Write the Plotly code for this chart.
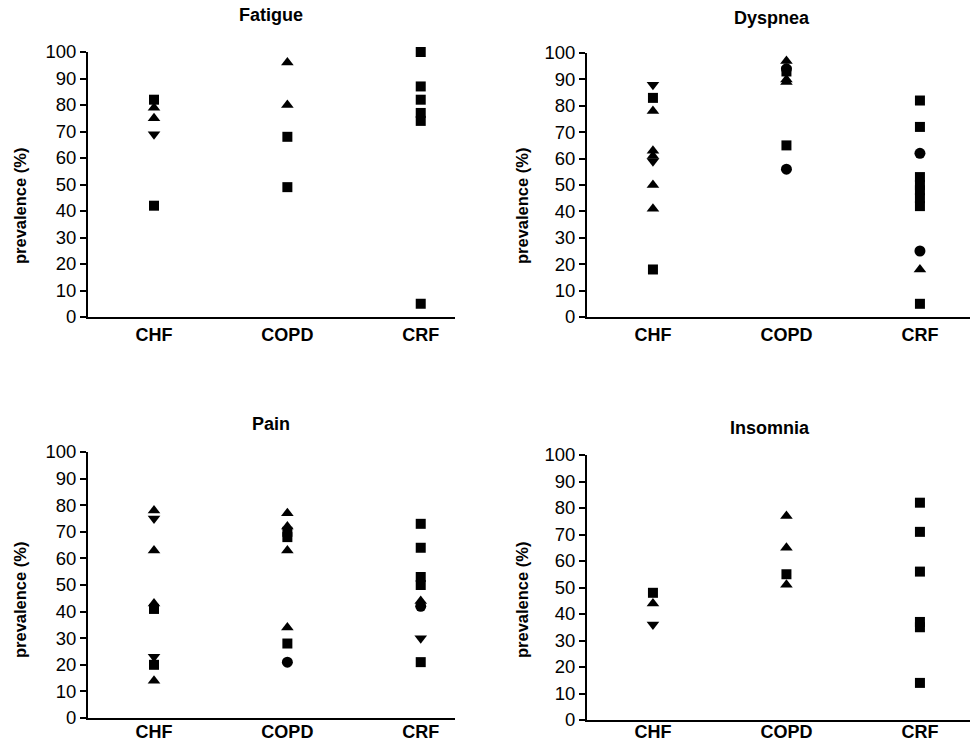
import plotly.graph_objects as go

W, H = 976, 742

categories = ["CHF", "COPD", "CRF"]
panel_titles = ["Fatigue", "Dyspnea", "Pain", "Insomnia"]
y_ticks = [0, 10, 20, 30, 40, 50, 60, 70, 80, 90, 100]

# values per category (CHF, COPD, CRF), grouped by series (study marker)
fatigue_sq = [[82, 42], [68, 49], [100, 87, 82, 77, 74, 5]]
fatigue_tu = [[79, 75], [96, 80], []]
fatigue_td = [[69], [], []]
fatigue_ci = [[], [], []]

dyspnea_sq = [[83, 18], [93, 65], [82, 72, 53, 50, 48, 45, 42, 5]]
dyspnea_tu = [[78, 63, 61, 50, 41], [97, 90, 89], [18]]
dyspnea_td = [[88, 59], [], []]
dyspnea_ci = [[], [94, 56], [62, 25]]

pain_sq = [[41, 20], [70, 68, 28], [73, 64, 53, 50, 21]]
pain_tu = [[78, 63, 43, 14], [77, 72, 63, 34], [44]]
pain_td = [[75, 23], [], [30]]
pain_ci = [[], [21], [42]]

insomnia_sq = [[48], [55], [82, 71, 56, 37, 35, 14]]
insomnia_tu = [[44], [77, 65, 51], []]
insomnia_td = [[36], [], []]
insomnia_ci = [[], [], []]

panels = [
    (fatigue_sq, fatigue_tu, fatigue_td, fatigue_ci),
    (dyspnea_sq, dyspnea_tu, dyspnea_td, dyspnea_ci),
    (pain_sq, pain_tu, pain_td, pain_ci),
    (insomnia_sq, insomnia_tu, insomnia_td, insomnia_ci),
]

# pixel geometry of each plot area: (left, right, top(100), bottom(0)), x range, label standoff
geom = [
    (88, 455, 52, 317, [-0.495, 2.257], 0),
    (587, 970, 53, 317, [-0.494, 2.375], 0),
    (88, 455, 452, 718, [-0.495, 2.257], -4),
    (587, 970, 455, 720, [-0.494, 2.375], -6),
]
symbols = ["square", "triangle-up", "triangle-down", "circle"]
sizes = [10, 11, 11, 11]
FONT = "Liberation Sans, Arial"

fig = go.Figure()
layout = {}
for i, (series, g) in enumerate(zip(panels, geom)):
    n = "" if i == 0 else str(i + 1)
    xa, ya = "x" + n, "y" + n
    for s, sym, sz in zip(series, symbols, sizes):
        xs, ys = [], []
        for ci, vals in enumerate(s):
            for v in vals:
                xs.append(ci)
                ys.append(v)
        if not xs:
            continue
        fig.add_trace(go.Scatter(
            x=xs, y=ys, mode="markers", xaxis=xa, yaxis=ya,
            marker=dict(symbol=sym, size=sz, color="black", line=dict(width=0)),
            cliponaxis=False, showlegend=False, hoverinfo="y"))
    left, right, top, bottom, xr, so = g
    layout["xaxis" + n] = dict(
        domain=[left / W, right / W], anchor=ya, range=xr,
        tickvals=[0, 1, 2], ticktext=["<b>%s</b>" % c for c in categories],
        tickfont=dict(size=18, color="black", family=FONT), ticklabelstandoff=so,
        showline=True, linecolor="black", linewidth=2, ticks="",
        showgrid=False, zeroline=False, fixedrange=True, automargin=False)
    layout["yaxis" + n] = dict(
        domain=[1 - bottom / H, 1 - top / H], anchor=xa, range=[0, 100],
        tickvals=y_ticks, ticks="outside", ticklen=6, tickwidth=1.5, tickcolor="black",
        tickfont=dict(size=18.5, color="black", family=FONT),
        showline=True, linecolor="black", linewidth=2,
        showgrid=False, zeroline=False, fixedrange=True, automargin=False)

fig.update_layout(**layout)

title_pos = [(271, 15), (772, 18), (271, 424), (770, 428)]
ytitle_pos = [(20, 206), (522, 206), (20, 600), (522, 600)]
ann = []
for t, (tx, ty), (yx, yy) in zip(panel_titles, title_pos, ytitle_pos):
    ann.append(dict(text="<b>%s</b>" % t, x=tx / W, y=1 - ty / H, xref="paper", yref="paper",
                    showarrow=False, xanchor="center", yanchor="middle",
                    font=dict(size=18, color="black", family=FONT)))
    ann.append(dict(text="<b>prevalence (%)</b>", x=yx / W, y=1 - yy / H, xref="paper",
                    yref="paper", showarrow=False, textangle=-90,
                    xanchor="center", yanchor="middle",
                    font=dict(size=16.5, color="black", family=FONT)))

fig.update_layout(
    width=W, height=H, margin=dict(l=0, r=0, t=0, b=0, autoexpand=False),
    paper_bgcolor="white", plot_bgcolor="white", annotations=ann,
    font=dict(family=FONT, color="black"))

fig.write_html("out.html", config={"displayModeBar": False},
               post_script="document.body.style.margin='0';document.body.style.overflow='hidden';")
